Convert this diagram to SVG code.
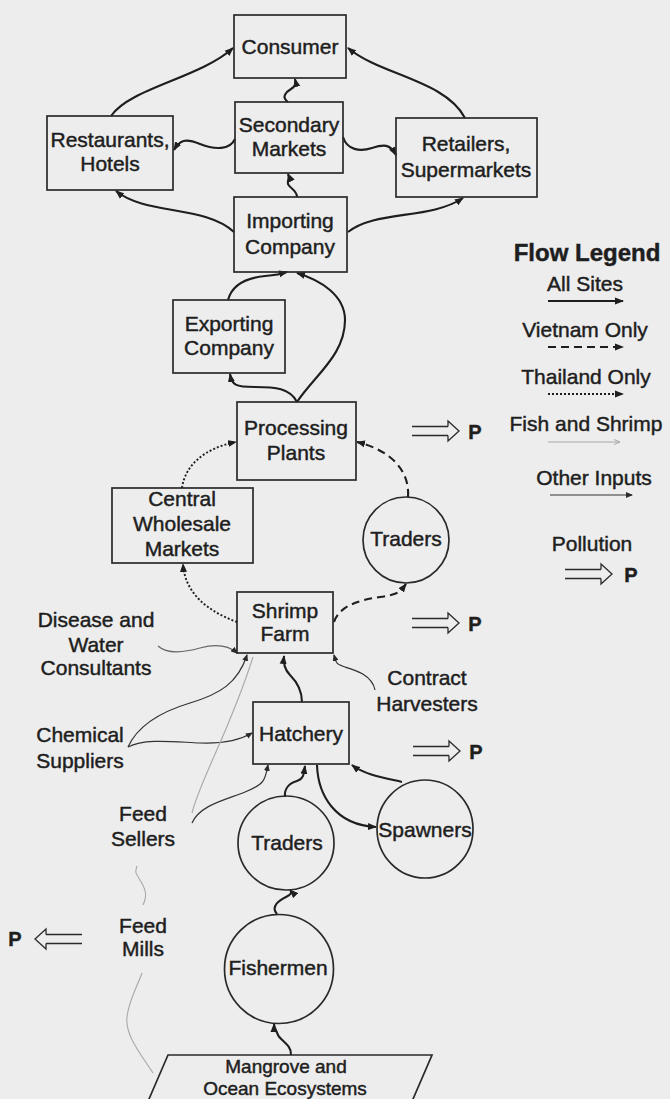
<svg xmlns="http://www.w3.org/2000/svg" width="670" height="1099" viewBox="0 0 670 1099">
<style>
text{font-family:"Liberation Sans",Arial,sans-serif;font-size:21px;fill:#1e1e1e;stroke:#1e1e1e;stroke-width:0.45;text-anchor:middle}
.box{fill:none;stroke:#2a2a2a;stroke-width:1.7}
.main{fill:none;stroke:#1e1e1e;stroke-width:2.1}
.dash{fill:none;stroke:#1e1e1e;stroke-width:2.1;stroke-dasharray:8 5}
.dot{fill:none;stroke:#1e1e1e;stroke-width:1.9;stroke-dasharray:2 2}
.thin{fill:none;stroke:#333;stroke-width:1.2}
.grey{fill:none;stroke:#a8a8a8;stroke-width:1.1}
.poll{fill:none;stroke:#2a2a2a;stroke-width:1.3;stroke-linejoin:miter}
.p{font-weight:bold;font-size:20px}
</style>
<defs>
<marker id="ah" markerUnits="userSpaceOnUse" markerWidth="9" markerHeight="8" refX="8" refY="4" orient="auto"><path d="M0,0.5 L9,4 L0,7.5 z" fill="#1e1e1e"/></marker>
<marker id="ahs" markerUnits="userSpaceOnUse" markerWidth="7" markerHeight="6" refX="6" refY="3" orient="auto"><path d="M0,0 L7,3 L0,6 z" fill="#2a2a2a"/></marker>
<marker id="ahg" markerUnits="userSpaceOnUse" markerWidth="7" markerHeight="6" refX="6" refY="3" orient="auto"><path d="M0,0.5 L6,3 L0,5.5" fill="none" stroke="#a8a8a8" stroke-width="1"/></marker>
<path id="pollR" d="M0,-4.5 H36 M0,4.5 H36 M36,-4.5 V-10 L47,0 L36,10 V4.5"/>
</defs>
<rect width="670" height="1099" fill="#ededed"/>

<g id="connectors">
<path class="main" marker-end="url(#ah)" d="M111,116 C130,88 200,78 233,48"/>
<path class="main" marker-end="url(#ah)" d="M465,118 C445,80 380,75 348,48"/>
<path class="main" marker-end="url(#ah)" d="M234,232 C205,205 145,215 116,191"/>
<path class="main" marker-end="url(#ah)" d="M348,232 C375,210 430,220 463,198"/>
<path class="main" marker-end="url(#ah)" d="M288,102 C281,97 286,92 291,89 C296,86 296,83 295,79"/>
<path class="main" marker-end="url(#ah)" d="M297,197 C297,190 289,188 288,184 C287,180 290,178 288,174"/>
<path class="main" marker-end="url(#ah)" d="M235,139 C230,150 215,150 200,144 S180,140 174,150"/>
<path class="main" marker-end="url(#ah)" d="M343,137 C347,150 360,152 372,148 S390,144 396,155"/>
<path class="main" marker-end="url(#ah)" d="M228,300 C232,285 245,278 265,276 S283,273 287,272"/>
<path class="main" marker-end="url(#ah)" d="M297,402 C315,375 345,355 345,320 C345,295 320,280 297,273"/>
<path class="main" marker-end="url(#ah)" d="M297,402 C290,388 275,387 255,387 S232,385 230,374"/>
<path class="dot" marker-end="url(#ah)" d="M182,488 C185,465 205,448 236,442"/>
<path class="dash" marker-end="url(#ah)" d="M408,497 C410,470 390,450 357,442"/>
<path class="dot" marker-end="url(#ah)" d="M237,622 C210,612 185,595 183,564"/>
<path class="dash" marker-end="url(#ah)" d="M334,622 C340,605 360,600 380,597 S400,592 406,584"/>
<path class="main" marker-end="url(#ah)" d="M302,702 C302,688 295,680 290,675 S283,665 284,656"/>
<path class="main" marker-end="url(#ah)" d="M285,797 C284,788 290,783 297,781 S304,773 305,766"/>
<path class="main" marker-end="url(#ah)" d="M402,782 C385,778 365,775 352,765"/>
<path class="main" marker-end="url(#ah)" d="M317,765 C318,795 335,825 376,827"/>
<path class="main" marker-end="url(#ah)" d="M277,914 C270,906 280,900 286,897 S292,892 290,890"/>
<path class="main" marker-end="url(#ah)" d="M291,1055 C292,1045 280,1040 278,1035 S274,1028 274,1024"/>
<path class="thin" style="stroke:#666" marker-end="url(#ahs)" d="M158,646 C168,655 185,652 200,648 S228,645 237,653"/>
<path class="thin" marker-end="url(#ahs)" d="M128,747 C138,725 160,712 190,703 S238,683 247,655"/>
<path class="thin" marker-end="url(#ahs)" d="M128,747 C145,738 175,742 200,743 S240,740 252,733"/>
<path class="thin" marker-end="url(#ahs)" d="M375,690 C372,675 355,670 345,667 S336,662 334,655"/>
<path class="thin" marker-end="url(#ahs)" d="M192,823 C200,805 225,800 245,792 S265,780 268,765"/>
<path class="grey" d="M192,813 C200,780 230,730 253,657"/>
<path class="grey" d="M143,905 C148,895 145,888 140,880 S135,872 137,866"/>
<path class="grey" d="M153,1073 C140,1053 125,1035 127,1017 S138,985 142,973"/>
</g>

<g id="consumer"><rect class="box" x="234" y="15" width="112" height="63"/><text x="290" y="53.5">Consumer</text></g>
<g id="secondary-markets"><rect class="box" x="235" y="102" width="108" height="71"/><text x="289" y="132">Secondary</text><text x="289" y="156">Markets</text></g>
<g id="restaurants-hotels"><rect class="box" x="47" y="116" width="126" height="74"/><text x="110" y="146.5">Restaurants,</text><text x="110" y="171">Hotels</text></g>
<g id="retailers-supermarkets"><rect class="box" x="396" y="118" width="141" height="79"/><text x="466" y="150.5">Retailers,</text><text x="466" y="176.5">Supermarkets</text></g>
<g id="importing-company"><rect class="box" x="234" y="197" width="113" height="75"/><text x="290" y="227.5">Importing</text><text x="290" y="253.5">Company</text></g>
<g id="exporting-company"><rect class="box" x="173" y="300" width="112" height="73"/><text x="229" y="330.5">Exporting</text><text x="229" y="354.5">Company</text></g>
<g id="processing-plants"><rect class="box" x="237" y="402" width="119" height="78"/><text x="296" y="434.5">Processing</text><text x="296" y="459.5">Plants</text></g>
<g id="central-wholesale-markets"><rect class="box" x="112" y="488" width="141" height="75"/><text x="182" y="505.5">Central</text><text x="182" y="530.5">Wholesale</text><text x="182" y="555.5">Markets</text></g>
<g id="traders-upper"><circle class="box" cx="406" cy="540" r="43"/><text x="406" y="545.5">Traders</text></g>
<g id="shrimp-farm"><rect class="box" x="237" y="592" width="96" height="61"/><text x="285" y="617.5">Shrimp</text><text x="285" y="640.5">Farm</text></g>
<g id="hatchery"><rect class="box" x="253" y="702" width="96" height="62"/><text x="301" y="740.5">Hatchery</text></g>
<g id="traders-lower"><ellipse class="box" cx="286" cy="843" rx="48" ry="47"/><text x="287" y="849.5">Traders</text></g>
<g id="spawners"><ellipse class="box" cx="425" cy="829" rx="48" ry="49"/><text x="425" y="836.5">Spawners</text></g>
<g id="fishermen"><ellipse class="box" cx="279" cy="969" rx="54.5" ry="54.5"/><text x="278" y="974.5">Fishermen</text></g>
<g id="mangrove"><polygon class="box" points="168,1055 432,1055 410,1106 146,1106"/><text x="286" y="1073" style="font-size:19px">Mangrove and</text><text x="285" y="1095" style="font-size:19px">Ocean Ecosystems</text></g>
<g id="disease-consultants"><text x="96" y="627">Disease and</text><text x="96" y="652">Water</text><text x="96" y="675">Consultants</text></g>
<g id="contract-harvesters"><text x="427" y="684.5">Contract</text><text x="427" y="710.5">Harvesters</text></g>
<g id="chemical-suppliers"><text x="80" y="741.5">Chemical</text><text x="80" y="767.5">Suppliers</text></g>
<g id="feed-sellers"><text x="143" y="820.5">Feed</text><text x="143" y="845.5">Sellers</text></g>
<g id="feed-mills"><text x="143" y="932.5">Feed</text><text x="143" y="955.5">Mills</text></g>

<g id="pollution">
<use href="#pollR" class="poll" x="412" y="431"/><text class="p" x="475" y="439">P</text>
<use href="#pollR" class="poll" x="412" y="623"/><text class="p" x="475" y="631">P</text>
<use href="#pollR" class="poll" x="413" y="751"/><text class="p" x="476" y="759">P</text>
<use href="#pollR" class="poll" transform="translate(82,939) scale(-1,1)"/><text class="p" x="15" y="946">P</text>
</g>

<g id="legend">
<text x="587" y="261" style="font-weight:bold;font-size:24px">Flow Legend</text>
<text x="585" y="290.5">All Sites</text>
<path class="main" marker-end="url(#ah)" d="M548,301 H623"/>
<text x="585" y="336.5">Vietnam Only</text>
<path class="dash" marker-end="url(#ah)" d="M548,347 H623"/>
<text x="586" y="383.5">Thailand Only</text>
<path class="dot" marker-end="url(#ah)" d="M548,394 H623"/>
<text x="586" y="430.5">Fish and Shrimp</text>
<path class="grey" marker-end="url(#ahg)" d="M548,442 H620"/>
<text x="594" y="484.5">Other Inputs</text>
<path class="thin" marker-end="url(#ahs)" d="M550,495 H632"/>
<text x="592" y="550.5">Pollution</text>
<use href="#pollR" class="poll" x="565" y="574"/><text class="p" x="631" y="582">P</text>
</g>
</svg>
